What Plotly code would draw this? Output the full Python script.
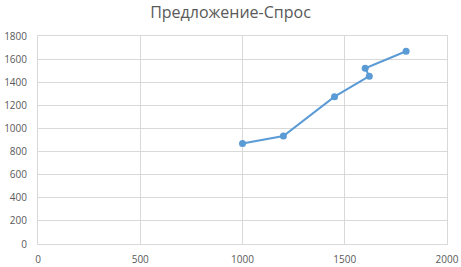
import plotly.graph_objects as go

x_vals = [1000, 1200, 1450, 1620, 1600, 1800]
y_vals = [870, 935, 1275, 1452, 1520, 1668]
x_ticks = [0, 500, 1000, 1500, 2000]
y_ticks = [0, 200, 400, 600, 800, 1000, 1200, 1400, 1600, 1800]
title_text = "Предложение-Спрос"

fig = go.Figure()
fig.add_trace(go.Scatter(
    x=x_vals, y=y_vals, mode="lines+markers",
    line=dict(color="#5B9BD5", width=2),
    marker=dict(color="#5B9BD5", size=7),
    showlegend=False,
))

grid = "#D9D9D9"
fig.update_layout(
    width=461, height=267,
    margin=dict(l=38, r=14, t=36, b=23, autoexpand=False),
    paper_bgcolor="white", plot_bgcolor="white",
    font=dict(family="Open Sans, Liberation Sans, sans-serif", color="#595959", size=10),
    title=dict(text=title_text, x=0.5, xanchor="center", y=0.955, yanchor="middle",
               font=dict(size=16, color="#595959")),
    xaxis=dict(range=[0, 2000], tickvals=x_ticks, showgrid=True, gridcolor=grid,
               zeroline=False, showline=True, linecolor=grid, mirror=True, automargin=False,
               ticks="outside", ticklen=6, tickcolor="white", tickfont=dict(size=10, color="#595959")),
    yaxis=dict(range=[0, 1800], tickvals=y_ticks, showgrid=True, gridcolor=grid,
               zeroline=False, showline=True, linecolor=grid, mirror=True, automargin=False,
               ticks="outside", ticklen=8, tickcolor="white",
               tickfont=dict(size=10, color="#595959")),
)
fig.write_html("out.html")
